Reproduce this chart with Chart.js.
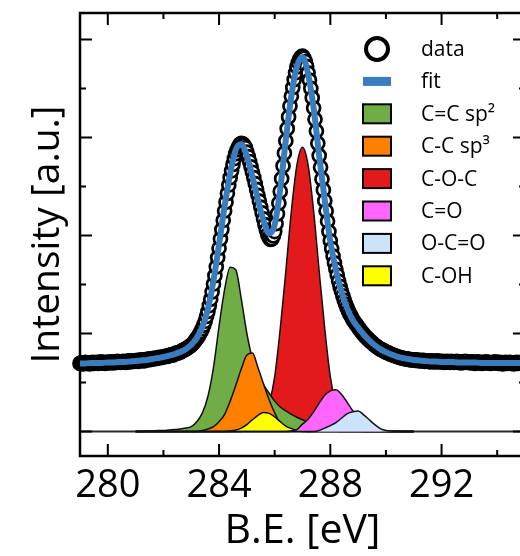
<!DOCTYPE html>
<html>
<head>
<meta charset="utf-8">
<title>C 1s XPS</title>
<script src="https://cdn.jsdelivr.net/npm/chart.js@4.4.1/dist/chart.umd.min.js"></script>
<style>
    html, body { margin: 0; padding: 0; background: #fff; overflow: hidden; }
    #wrap { position: relative; width: 540px; height: 556px; }
</style>
</head>
<body>
<div id="wrap"><canvas id="xps"></canvas></div>
<script>
// ============================================================================
// SPECTRUM DATA (C 1s region, binding energy in eV)
// ============================================================================

// measured counts, 0.05 eV steps from 279.00 to 295.00
var measuredStart = 279.0;
var measuredStep = 0.05;
var measured = [
    1.39, 1.40, 1.38, 1.39, 1.41, 1.39, 1.40, 1.38, 1.40, 1.41, 1.39, 1.40, 1.41, 1.39, 1.40, 1.42, 1.40, 1.41, 1.39, 1.41,
    1.41, 1.40, 1.42, 1.41, 1.40, 1.42, 1.41, 1.43, 1.42, 1.41, 1.42, 1.43, 1.42, 1.41, 1.43, 1.44, 1.42, 1.43, 1.44, 1.43,
    1.44, 1.45, 1.43, 1.45, 1.46, 1.45, 1.44, 1.46, 1.47, 1.46, 1.48, 1.47, 1.49, 1.48, 1.50, 1.49, 1.51, 1.50, 1.52, 1.51,
    1.52, 1.53, 1.54, 1.53, 1.55, 1.56, 1.57, 1.56, 1.58, 1.60, 1.60, 1.61, 1.62, 1.64, 1.65, 1.67, 1.68, 1.70, 1.72, 1.74,
    1.76, 1.79, 1.82, 1.86, 1.90, 1.94, 1.99, 2.04, 2.10, 2.17, 2.25, 2.35, 2.45, 2.57, 2.70, 2.85, 3.01, 3.18, 3.36, 3.55,
    3.74, 3.93, 4.12, 4.31, 4.50, 4.68, 4.86, 5.03, 5.18, 5.32, 5.45, 5.57, 5.67, 5.75, 5.81, 5.86, 5.88, 5.87, 5.84, 5.79,
    5.70, 5.61, 5.51, 5.40, 5.29, 5.18, 5.06, 4.94, 4.82, 4.70, 4.58, 4.46, 4.34, 4.22, 4.11, 4.02, 3.96, 3.92, 3.93, 3.99,
    4.08, 4.24, 4.44, 4.66, 4.90, 5.16, 5.42, 5.68, 5.93, 6.18, 6.42, 6.64, 6.84, 7.02, 7.18, 7.32, 7.44, 7.53, 7.60, 7.64,
    7.66, 7.62, 7.55, 7.45, 7.32, 7.17, 7.00, 6.81, 6.60, 6.37, 6.13, 5.88, 5.63, 5.39, 5.15, 4.93, 4.71, 4.50, 4.29, 4.08,
    3.89, 3.73, 3.58, 3.44, 3.31, 3.19, 3.07, 2.96, 2.86, 2.77, 2.68, 2.60, 2.53, 2.46, 2.40, 2.35, 2.29, 2.25, 2.21, 2.17,
    2.13, 2.09, 2.05, 2.02, 1.98, 1.95, 1.92, 1.89, 1.86, 1.84, 1.81, 1.79, 1.76, 1.74, 1.72, 1.70, 1.68, 1.67, 1.65, 1.64,
    1.62, 1.61, 1.60, 1.58, 1.57, 1.56, 1.55, 1.54, 1.53, 1.52, 1.51, 1.50, 1.50, 1.49, 1.48, 1.48, 1.47, 1.47, 1.46, 1.46,
    1.46, 1.45, 1.46, 1.45, 1.44, 1.45, 1.44, 1.45, 1.43, 1.44, 1.44, 1.43, 1.42, 1.44, 1.43, 1.42, 1.43, 1.44, 1.42, 1.43,
    1.42, 1.43, 1.41, 1.42, 1.43, 1.42, 1.41, 1.43, 1.42, 1.41, 1.42, 1.43, 1.41, 1.42, 1.40, 1.42, 1.41, 1.43, 1.41, 1.42,
    1.41, 1.40, 1.42, 1.41, 1.39, 1.41, 1.42, 1.40, 1.41, 1.39, 1.41, 1.40, 1.42, 1.40, 1.41, 1.39, 1.40, 1.41, 1.40, 1.42,
    1.40, 1.39, 1.41, 1.40, 1.38, 1.40, 1.41, 1.39, 1.40, 1.41, 1.39, 1.40, 1.38, 1.40, 1.41, 1.39, 1.40, 1.41, 1.39, 1.40,
    1.40
];

// fitted envelope (background + components), 0.2 eV steps from 279.0 to 295.0
var fitStart = 279.0;
var fitStep = 0.2;
var fitEnvelope = [
    1.39, 1.39, 1.40, 1.40, 1.40, 1.41, 1.41, 1.42, 1.42, 1.43,
    1.44, 1.45, 1.46, 1.48, 1.50, 1.52, 1.55, 1.58, 1.62, 1.68,
    1.77, 1.91, 2.13, 2.50, 3.08, 3.82, 4.60, 5.26, 5.75, 5.86,
    5.62, 5.20, 4.72, 4.30, 4.04, 4.22, 4.95, 5.95, 6.85, 7.45,
    7.64, 7.30, 6.60, 5.62, 4.72, 3.88, 3.30, 2.85, 2.52, 2.28,
    2.12, 1.98, 1.86, 1.76, 1.68, 1.62, 1.57, 1.53, 1.50, 1.48,
    1.46, 1.45, 1.44, 1.43, 1.43, 1.42, 1.42, 1.42, 1.41, 1.41,
    1.41, 1.41, 1.40, 1.40, 1.40, 1.40, 1.40, 1.40, 1.40, 1.40,
    1.40
];

// fitted components, 0.2 eV steps from 281.0 to 291.0
var peakStart = 281.0;
var peakStep = 0.2;
var peakCCsp2 = [
    0, 0, 0.01, 0.01, 0.02, 0.02, 0.03, 0.04, 0.05, 0.07,
    0.10, 0.20, 0.38, 0.72, 1.31, 2.15, 2.90, 3.35, 3.30, 2.70,
    2.00, 1.48, 1.15, 0.95, 0.78, 0.62, 0.50, 0.42, 0.35, 0.29,
    0.24, 0.19, 0.14, 0.09, 0.05, 0.02, 0.01, 0, 0, 0,
    0, 0, 0, 0, 0, 0, 0, 0, 0, 0,
    0
];
var peakCCsp3 = [
    0, 0, 0, 0, 0, 0, 0, 0, 0, 0,
    0, 0, 0.02, 0.05, 0.10, 0.20, 0.35, 0.62, 0.94, 1.28,
    1.56, 1.60, 1.30, 0.97, 0.65, 0.38, 0.16, 0.07, 0.03, 0.01,
    0, 0, 0, 0, 0, 0, 0, 0, 0, 0,
    0, 0, 0, 0, 0, 0, 0, 0, 0, 0,
    0
];
var peakCOC = [
    0, 0, 0, 0, 0, 0, 0, 0, 0, 0,
    0, 0, 0, 0, 0, 0, 0, 0, 0, 0,
    0.01, 0.03, 0.08, 0.20, 0.55, 1.12, 2.10, 3.27, 4.50, 5.44,
    5.80, 5.44, 4.50, 3.27, 2.10, 1.12, 0.55, 0.22, 0.08, 0.03,
    0.01, 0, 0, 0, 0, 0, 0, 0, 0, 0,
    0
];
var peakCO = [
    0, 0, 0, 0, 0, 0, 0, 0, 0, 0,
    0, 0, 0, 0, 0, 0, 0, 0, 0, 0,
    0, 0, 0, 0, 0, 0, 0, 0, 0.01, 0.04,
    0.15, 0.25, 0.40, 0.58, 0.74, 0.83, 0.85, 0.76, 0.60, 0.43,
    0.28, 0.18, 0.10, 0.05, 0.02, 0.01, 0, 0, 0, 0,
    0
];
var peakOCO = [
    0, 0, 0, 0, 0, 0, 0, 0, 0, 0,
    0, 0, 0, 0, 0, 0, 0, 0, 0, 0,
    0, 0, 0, 0, 0, 0, 0, 0, 0, 0,
    0, 0, 0, 0.02, 0.07, 0.12, 0.18, 0.27, 0.36, 0.40,
    0.42, 0.34, 0.24, 0.14, 0.06, 0.02, 0.01, 0, 0, 0,
    0
];
var peakCOH = [
    0, 0, 0, 0, 0, 0, 0, 0, 0, 0,
    0, 0, 0, 0, 0, 0, 0, 0.01, 0.03, 0.07,
    0.14, 0.24, 0.33, 0.39, 0.37, 0.30, 0.20, 0.11, 0.06, 0.02,
    0.01, 0, 0, 0, 0, 0, 0, 0, 0, 0,
    0, 0, 0, 0, 0, 0, 0, 0, 0, 0,
    0
];

var peakLabels = ['C=C sp\u00B2', 'C-C sp\u00B3', 'C-O-C', 'C=O', 'O-C=O', 'C-OH'];
var xTickValues = [280, 284, 288, 292];
var xMinorValues = [282, 286, 290, 294];
var yTickValues = [0, 1, 2, 3, 4, 5, 6, 7, 8];

(function(global) {
    'use strict';

    // ============================================================================
    // HELPERS
    // ============================================================================

    /**
     * Pair a list of intensities with their binding energies
     * @param {number} start - First energy
     * @param {number} step - Energy step
     * @param {number[]} values - Intensities
     * @returns {Object[]} {x, y} points
     */
    function toPoints(start, step, values) {
        return values.map(function(v, i) {
            return { x: +(start + i * step).toFixed(3), y: v };
        });
    }

    function componentDataset(label, values, color, order) {
        return {
            label: label,
            data: toPoints(peakStart, peakStep, values),
            borderColor: '#111',
            borderWidth: 1.5,
            backgroundColor: color,
            fill: 'origin',
            pointRadius: 0,
            cubicInterpolationMode: 'monotone',
            order: order,
            legendMarker: 'box'
        };
    }

    // ============================================================================
    // FRAME, INWARD TICKS AND LEGEND
    // ============================================================================

    var frameTicks = {
        id: 'frameTicks',
        beforeDatasetsDraw: function(chart) {
            var ctx = chart.ctx;
            var a = chart.chartArea;
            var xs = chart.scales.x;
            var ys = chart.scales.y;

            ctx.save();

            // zero line under the components
            var y0 = ys.getPixelForValue(0);
            ctx.strokeStyle = '#2a2a2a';
            ctx.lineWidth = 2;
            ctx.beginPath();
            ctx.moveTo(a.left, y0);
            ctx.lineTo(a.right, y0);
            ctx.stroke();

            ctx.strokeStyle = '#000';
            ctx.lineWidth = 2.5;
            ctx.strokeRect(a.left, a.top, a.right - a.left, a.bottom - a.top);

            ctx.lineWidth = 2;
            ctx.beginPath();
            yTickValues.forEach(function(v) {
                var py = ys.getPixelForValue(v);
                var len = v % 2 === 0 ? 12 : 6;
                ctx.moveTo(a.left, py); ctx.lineTo(a.left + len, py);
                ctx.moveTo(a.right, py); ctx.lineTo(a.right - len, py);
            });
            xTickValues.concat(xMinorValues).forEach(function(v) {
                var px = xs.getPixelForValue(v);
                var len = xTickValues.indexOf(v) >= 0 ? 12 : 6;
                ctx.moveTo(px, a.bottom); ctx.lineTo(px, a.bottom - len);
                ctx.moveTo(px, a.top); ctx.lineTo(px, a.top + len);
            });
            ctx.stroke();
            ctx.restore();
        },
        afterDraw: function(chart) {
            var ctx = chart.ctx;
            var markerX = 377;
            var textX = 421;
            var rowY = 49;
            var rowStep = 32.4;

            ctx.save();
            ctx.font = '21px "Open Sans", sans-serif';
            ctx.textBaseline = 'middle';
            ctx.textAlign = 'left';

            chart.data.datasets.forEach(function(ds, i) {
                var y = rowY + i * rowStep;
                if (ds.legendMarker === 'circle') {
                    ctx.beginPath();
                    ctx.arc(markerX, y, 11, 0, Math.PI * 2);
                    ctx.fillStyle = '#fff';
                    ctx.fill();
                    ctx.lineWidth = 4;
                    ctx.strokeStyle = '#000';
                    ctx.stroke();
                } else if (ds.legendMarker === 'bar') {
                    ctx.fillStyle = ds.borderColor;
                    ctx.fillRect(markerX - 14, y - 4.5, 28, 9);
                } else {
                    ctx.fillStyle = ds.backgroundColor;
                    ctx.fillRect(markerX - 14, y - 9.5, 28, 19);
                    ctx.lineWidth = 2;
                    ctx.strokeStyle = '#000';
                    ctx.strokeRect(markerX - 14, y - 9.5, 28, 19);
                }
                ctx.fillStyle = '#000';
                ctx.fillText(ds.label, textX, y + 1);
            });
            ctx.restore();
        }
    };

    // ============================================================================
    // CHART
    // ============================================================================

    Chart.defaults.font.family = '"Open Sans", sans-serif';
    Chart.defaults.color = '#000';

    var datasets = [
        {
            label: 'data',
            data: toPoints(measuredStart, measuredStep, measured),
            showLine: false,
            pointRadius: 6.5,
            pointBorderWidth: 2.7,
            pointBackgroundColor: '#fff',
            pointBorderColor: '#000',
            clip: false,
            order: 1,
            legendMarker: 'circle'
        },
        {
            label: 'fit',
            data: toPoints(fitStart, fitStep, fitEnvelope),
            borderColor: '#3a7dbf',
            borderWidth: 6,
            pointRadius: 0,
            fill: false,
            cubicInterpolationMode: 'monotone',
            order: 0,
            legendMarker: 'bar'
        },
        componentDataset(peakLabels[0], peakCCsp2, '#70ad47', 6),
        componentDataset(peakLabels[1], peakCCsp3, '#ff7f00', 5),
        componentDataset(peakLabels[2], peakCOC, '#e31a1c', 7),
        componentDataset(peakLabels[3], peakCO, '#ff66ff', 3),
        componentDataset(peakLabels[4], peakOCO, '#cce4fa', 2),
        componentDataset(peakLabels[5], peakCOH, '#ffff00', 4)
    ];

    var chart = new Chart(document.getElementById('xps'), {
        type: 'line',
        data: { datasets: datasets },
        options: {
            responsive: true,
            maintainAspectRatio: false,
            animation: false,
            events: [],
            layout: { padding: { top: 13, right: 15, left: 0, bottom: 0 } },
            plugins: {
                legend: { display: false },
                tooltip: { enabled: false }
            },
            scales: {
                x: {
                    type: 'linear',
                    min: 279,
                    max: 295,
                    grid: { display: false, drawTicks: false },
                    border: { display: false },
                    afterBuildTicks: function(scale) {
                        scale.ticks = xTickValues.map(function(v) { return { value: v }; });
                    },
                    afterFit: function(scale) { scale.height = 100; },
                    ticks: {
                        padding: 7,
                        font: { size: 38 },
                        color: '#000'
                    },
                    title: {
                        display: true,
                        text: 'B.E. [eV]',
                        font: { size: 41 },
                        padding: { top: 0, bottom: 0 }
                    }
                },
                y: {
                    type: 'linear',
                    min: -0.5,
                    max: 8.54,
                    grid: { display: false, drawTicks: false },
                    border: { display: false },
                    ticks: { display: false },
                    afterFit: function(scale) { scale.width = 80; },
                    title: {
                        display: true,
                        text: 'Intensity [a.u.]',
                        font: { size: 39 },
                        padding: { top: 24, bottom: 0 }
                    }
                }
            }
        },
        plugins: [frameTicks]
    });

    global.xpsChart = chart;

})(typeof window !== 'undefined' ? window : this);
</script>
</body>
</html>
